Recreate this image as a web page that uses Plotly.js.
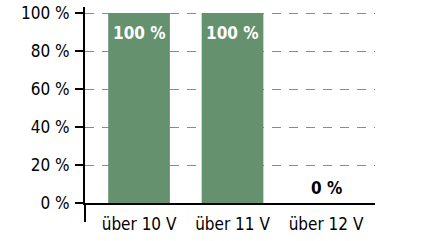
<!DOCTYPE html>
<html><head><meta charset="utf-8">
<script src="https://cdn.plot.ly/plotly-3.0.1.min.js"></script>
<style>html,body{margin:0;padding:0;background:#fff}#c{width:430px;height:241px}</style>
</head><body><div id="c"></div>
<script>
const categories = ['über 10 V', 'über 11 V', 'über 12 V'];
const values = [100, 100, 0];
const yTickVals = [0, 20, 40, 60, 80, 100];
const yTickText = ['0 %', '20 %', '40 %', '60 %', '80 %', '100 %'];

const FONT = '"DejaVu Sans Condensed", "Liberation Sans Narrow", sans-serif';

const trace = {
  type: 'bar',
  x: [0, 1, 2],
  y: values,
  width: 0.66,
  marker: {color: '#66916e', line: {width: 0}},
  hoverinfo: 'none'
};

const labels = values.map((v, i) => ({
  x: i, y: v, xref: 'x', yref: 'y',
  text: v + ' %', showarrow: false,
  yanchor: v > 0 ? 'top' : 'bottom',
  yshift: v > 0 ? -8 : 3,
  font: {family: FONT, size: 17, weight: 'bold', color: v > 0 ? '#ffffff' : '#000000'}
}));

const layout = {
  width: 430, height: 241,
  margin: {l: 85, r: 55, t: 7, b: 38},
  paper_bgcolor: '#fff', plot_bgcolor: '#fff',
  showlegend: false,
  xaxis: {
    range: [-0.578, 2.524],
    tickvals: [0, 1, 2],
    ticktext: categories,
    showgrid: false,
    zeroline: false,
    showline: true, linecolor: '#000', linewidth: 2,
    ticks: '', ticklabelstandoff: 5,
    tickfont: {family: FONT, size: 17, color: '#000'},
    fixedrange: true
  },
  yaxis: {
    range: [0, 103.2],
    tickvals: yTickVals,
    ticktext: yTickText,
    showgrid: true, gridcolor: '#8a8a8a', gridwidth: 1, griddash: '9px,8px',
    zeroline: false,
    showline: true, linecolor: '#000', linewidth: 2,
    ticks: 'outside', ticklen: 8, tickwidth: 2, tickcolor: '#000',
    tickfont: {family: FONT, size: 17, color: '#000'},
    ticklabelstandoff: 2,
    fixedrange: true
  },
  annotations: labels,
  shapes: [{
    type: 'line', xref: 'paper', yref: 'paper',
    x0: 0, x1: 0, y0: 0, y1: -19 / 196,
    line: {color: '#000', width: 2}
  }]
};

Plotly.newPlot('c', [trace], layout, {displayModeBar: false, staticPlot: true});
</script></body></html>
